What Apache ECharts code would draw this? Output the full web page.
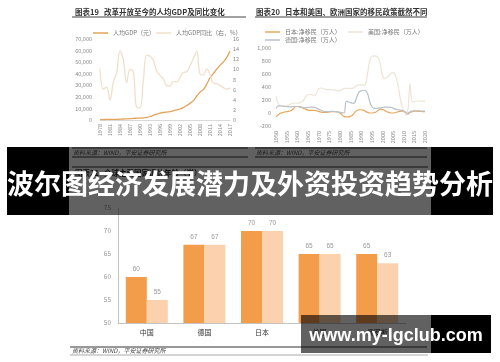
<!DOCTYPE html>
<html><head><meta charset="utf-8">
<script src="https://cdn.jsdelivr.net/npm/echarts@6/dist/echarts.min.js"></script>
<style>html,body{margin:0;padding:0;background:#fff}#c{width:500px;height:362px}</style>
</head><body><div id="c"></div>
<script>
// ---- Chart 19: GDP per capita ----
const years19 = ['1978','1979','1980','1981','1982','1983','1984','1985','1986','1987','1988','1989','1990','1991','1992','1993','1994','1995','1996','1997','1998','1999','2000','2001','2002','2003','2004','2005','2006','2007','2008','2009','2010','2011','2012','2013','2014','2015','2016','2017'];
const gdpPerCapita = [385,423,468,497,533,588,702,866,973,1123,1378,1536,1663,1912,2334,3027,4081,5091,5898,6481,6860,7229,7942,8717,9506,10666,12487,14368,16738,20505,24121,26222,30876,36403,40007,43852,47203,50251,53980,59660];
const gdpGrowth = [10.2,6.1,6.5,3.9,7.5,9.3,13.7,11.9,7.4,10.0,9.5,2.5,2.4,7.8,12.8,12.6,11.8,9.7,8.8,8.1,6.8,6.7,7.6,7.6,8.4,9.4,9.5,10.7,12.1,13.6,9.1,8.9,10.1,9.0,7.3,7.2,6.8,6.4,6.1,6.3];

// ---- Chart 20: net migration ----
const years20 = ['1950','1951','1952','1953','1954','1955','1956','1957','1958','1959','1960','1961','1962','1963','1964','1965','1966','1967','1968','1969','1970','1971','1972','1973','1974','1975','1976','1977','1978','1979','1980','1981','1982','1983','1984','1985','1986','1987','1988','1989','1990','1991','1992','1993','1994','1995','1996','1997','1998','1999','2000','2001','2002','2003','2004','2005','2006','2007','2008','2009','2010','2011','2012','2013','2014','2015','2016','2017','2018','2019','2020'];
const netMigJapan = [-60,-30,-5,5,15,20,25,35,60,95,100,95,85,70,55,45,40,40,40,35,25,15,10,10,10,15,20,20,20,15,5,-30,-55,-60,-60,-50,-30,10,40,50,50,45,25,10,0,0,5,15,40,60,55,40,20,10,0,0,5,15,25,30,20,5,0,10,20,30,30,25,25,20,20];
const netMigUS = [250,150,110,105,110,110,120,140,150,150,150,155,170,200,250,280,285,280,265,300,370,385,380,365,360,360,355,355,350,345,345,360,375,380,380,378,380,395,425,435,430,430,440,600,800,870,880,875,850,750,580,530,545,570,610,620,590,480,300,120,30,-30,60,450,170,180,185,185,185,180,180];
const netMigGermany = [70,110,110,105,100,100,95,95,100,100,100,95,90,85,80,85,90,90,90,75,60,45,30,20,20,20,25,25,20,15,10,5,0,180,170,160,150,160,250,320,340,350,345,300,180,100,75,70,75,80,85,90,90,90,85,75,60,50,45,40,30,10,-20,20,30,35,35,35,30,30,30];

// ---- Chart 21: retirement age ----
const countries = ['中国','德国','日本','美国','俄罗斯'];
const retireMale = [60,67,70,65,65];
const retireFemale = [55,67,70,65,63];

const CJK = '"Noto Sans CJK SC", sans-serif';
const small = {fontSize:5.5, color:'#8a8a8a', fontFamily:CJK};

function txt(text, x, y, font, fill, extra) {
  return Object.assign({type:'text', z:10, style:{text, x, y, font, fill, textVerticalAlign:'middle'}}, extra||{});
}
function ln(x1,y1,x2,y2,stroke,w,z) {
  return {type:'line', z:z||10, shape:{x1,y1,x2,y2}, style:{stroke, lineWidth:w||1}};
}
function rect(x,y,w,h,fill,z) {
  return {type:'rect', z:z||100, shape:{x,y,width:w,height:h}, style:{fill}};
}

const legendBase = {padding:0, itemWidth:15, itemHeight:1.5, icon:'rect', textStyle:{fontSize:6, color:'#777', fontFamily:CJK}, itemGap:4};

const option = {
  animation:false,
  backgroundColor:'#fff',
  legend:[
    Object.assign({}, legendBase, {data:['人均GDP（元）'], left:93, top:30}),
    Object.assign({}, legendBase, {data:['人均GDP同比（右，%）'], left:156, top:30}),
    Object.assign({}, legendBase, {data:['日本:净移民（万人）'], left:265, top:29}),
    Object.assign({}, legendBase, {data:['美国:净移民（万人）'], left:348, top:29}),
    Object.assign({}, legendBase, {data:['德国:净移民（万人）'], left:265, top:37})
  ],
  grid:[
    {left:100, width:130, top:39, height:81},
    {left:276, width:149, top:48, height:78},
    {left:118, width:288, top:208, height:115}
  ],
  xAxis:[
    {gridIndex:0, type:'category', data:years19, boundaryGap:false,
     axisLine:{lineStyle:{color:'#d9d9d9'}}, axisTick:{show:false},
     axisLabel:Object.assign({interval:2, rotate:90, margin:4}, small)},
    {gridIndex:1, type:'category', data:years20, boundaryGap:false,
     axisLine:{show:false}, axisTick:{show:false},
     axisLabel:Object.assign({interval:4, rotate:90, margin:5}, small)},
    {gridIndex:2, type:'category', data:countries,
     axisLine:{lineStyle:{color:'#c4c4c4'}}, axisTick:{show:false},
     axisLabel:{fontSize:7, color:'#333', margin:6, fontFamily:CJK}}
  ],
  yAxis:[
    {gridIndex:0, type:'value', min:0, max:70000, interval:10000, splitLine:{show:false},
     axisLine:{show:false}, axisTick:{show:false}, axisLabel:Object.assign({margin:8}, small)},
    {gridIndex:0, type:'value', position:'right', min:0, max:16, interval:2, splitLine:{show:false},
     axisLine:{show:false}, axisTick:{show:false}, axisLabel:Object.assign({margin:3}, small)},
    {gridIndex:1, type:'value', min:-200, max:1000, interval:200, splitLine:{show:false},
     axisLine:{show:false}, axisTick:{show:false}, axisLabel:Object.assign({margin:5}, small)},
    {gridIndex:2, type:'value', min:50, max:75, interval:5, splitLine:{show:false},
     axisLine:{show:true, lineStyle:{color:'#c4c4c4'}}, axisTick:{show:false},
     axisLabel:{fontSize:6.5, color:'#999', margin:7, fontFamily:CJK}}
  ],
  series:[
    {name:'人均GDP（元）', type:'line', xAxisIndex:0, yAxisIndex:0, data:gdpPerCapita, smooth:0.4, showSymbol:false,
     lineStyle:{color:'#E2A35A', width:1.3}, itemStyle:{color:'#E2A35A'}},
    {name:'人均GDP同比（右，%）', type:'line', xAxisIndex:0, yAxisIndex:1, data:gdpGrowth, smooth:0.4, showSymbol:false,
     lineStyle:{color:'#F0E0CA', width:1.3}, itemStyle:{color:'#F0E0CA'}},
    {name:'日本:净移民（万人）', type:'line', xAxisIndex:1, yAxisIndex:2, data:netMigJapan, smooth:0.4, showSymbol:false,
     lineStyle:{color:'#E9A860', width:1.2}, itemStyle:{color:'#E9A860'}},
    {name:'美国:净移民（万人）', type:'line', xAxisIndex:1, yAxisIndex:2, data:netMigUS, smooth:0.4, showSymbol:false,
     lineStyle:{color:'#EFE4D6', width:1.2}, itemStyle:{color:'#EFE4D6'}},
    {name:'德国:净移民（万人）', type:'line', xAxisIndex:1, yAxisIndex:2, data:netMigGermany, smooth:0.4, showSymbol:false,
     lineStyle:{color:'#B9C1CA', width:1.2}, itemStyle:{color:'#B9C1CA'}},
    {name:'男', type:'bar', xAxisIndex:2, yAxisIndex:3, data:retireMale, barWidth:21, barGap:'0%',
     itemStyle:{color:'#F39C4A'}, label:{show:true, position:'top', distance:4, fontSize:6.5, color:'#999'}},
    {name:'女', type:'bar', xAxisIndex:2, yAxisIndex:3, data:retireFemale, barWidth:21, barGap:'0%',
     itemStyle:{color:'#FBD2AD'}, label:{show:true, position:'top', distance:4, fontSize:6.5, color:'#999'}}
  ],
  graphic:{elements:[
    // panel titles
    txt('图表19   改革开放至今的人均GDP及同比变化', 75, 12, 'bold 7.5px '+CJK, '#333'),
    ln(72,17,246,17,'#444',1),
    txt('图表20   日本和美国、欧洲国家的移民政策截然不同', 256, 12, 'bold 7.5px '+CJK, '#333'),
    ln(255,17,427,17,'#444',1),
    // content under banner
    ln(72,148,248,148,'#333',1), ln(255,148,427,148,'#333',1),
    txt('资料来源：WIND，平安证券研究所', 73, 153, 'italic 6px '+CJK, '#444'),
    txt('资料来源：WIND，平安证券研究所', 256, 153, 'italic 6px '+CJK, '#444'),
    ln(72,157,248,157,'#333',1), ln(255,157,427,157,'#333',1),
    ln(72,167,428,167,'#333',1),
    txt('图表21   全球主要国家退休年龄（岁）', 75, 173, 'bold 7.5px '+CJK, '#333'),
    // bottom source
    ln(70,347,427,347,'#333',1),
    txt('资料来源：WIND，平安证券研究所', 72, 351, 'italic 6px '+CJK, '#444'),
    ln(70,355,428,355,'#aaa',1),
    // banner
    rect(7,147,62,68,'#000'), rect(431,147,62,68,'#000'),
    rect(69,147,362,68,'rgba(0,0,0,0.62)'),
    {type:'text', z:110, style:{text:'波尔图经济发展潜力及外资投资趋势分析', x:250, y:184, font:'bold 27px '+CJK, fill:'#fff', textAlign:'center', textVerticalAlign:'middle'}},
    // watermark
    rect(301,315,130,38,'rgba(0,0,0,0.62)'), rect(431,315,60,38,'#000'),
    {type:'text', z:110, style:{text:'www.my-lgclub.com', x:396, y:336, font:'bold 18px "Liberation Sans", Arial, sans-serif', fill:'#fff', textAlign:'center', textVerticalAlign:'middle'}}
  ]}
};
const chart = echarts.init(document.getElementById('c'), null, {renderer:'canvas'});
chart.setOption(option);
</script></body></html>
